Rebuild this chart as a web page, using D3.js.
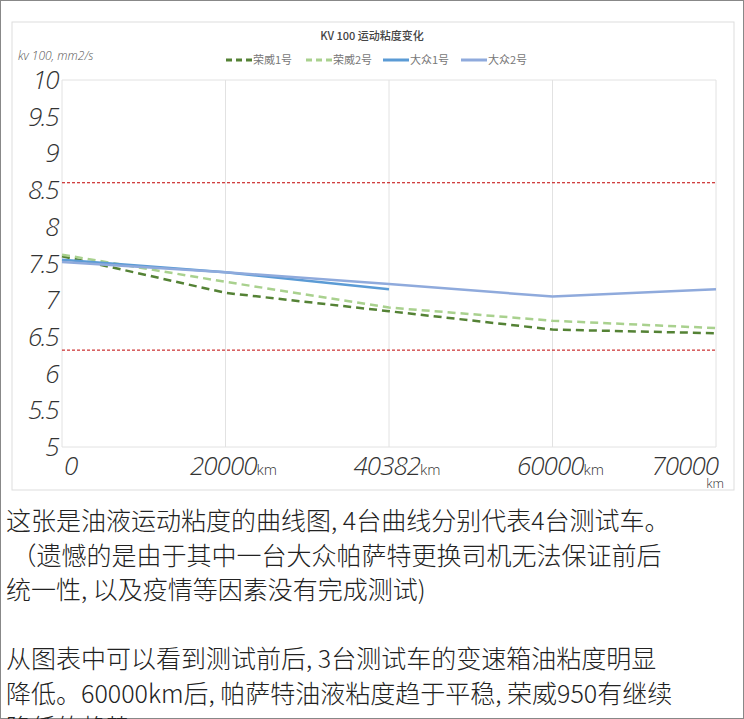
<!DOCTYPE html>
<html><head><meta charset="utf-8">
<script src="https://cdn.jsdelivr.net/npm/d3@7"></script>
<style>
body{margin:0;background:#fff;font-family:"Noto Sans CJK SC","Noto Sans",sans-serif;}
svg{display:block}
</style></head><body>
<svg id="c" width="744" height="719"></svg>
<script>
const categories = ["0", "20000", "40382", "60000", "70000"];
const yTicks = [5, 5.5, 6, 6.5, 7, 7.5, 8, 8.5, 9, 9.5, 10];
const roewe1 = [7.6, 7.1, 6.85, 6.6, 6.55];
const roewe2 = [7.62, 7.25, 6.9, 6.72, 6.62];
const vw1 = [7.55, 7.38, 7.15];
const vw2 = [7.52, 7.38, 7.22, 7.05, 7.15];
const limits = [8.6, 6.32];
const series = [
  {name: "荣威1号", values: roewe1, color: "#548235", dash: "8,5"},
  {name: "荣威2号", values: roewe2, color: "#a9d18e", dash: "8,5"},
  {name: "大众1号", values: vw1, color: "#5b9bd5", dash: null},
  {name: "大众2号", values: vw2, color: "#8faadc", dash: null}
];
const paragraphs = [
  "这张是油液运动粘度的曲线图, 4台曲线分别代表4台测试车。",
  " （遗憾的是由于其中一台大众帕萨特更换司机无法保证前后",
  "统一性, 以及疫情等因素没有完成测试)",
  "",
  "从图表中可以看到测试前后, 3台测试车的变速箱油粘度明显",
  "降低。60000km后, 帕萨特油液粘度趋于平稳, 荣威950有继续",
  "降低的趋势。"
];

const svg = d3.select("#c");
svg.append("rect").attr("x", 0.5).attr("y", 0.5).attr("width", 743).attr("height", 718)
  .attr("fill", "none").attr("stroke", "#888");
svg.append("rect").attr("x", 12).attr("y", 22).attr("width", 722).attr("height", 468)
  .attr("fill", "#fff").attr("stroke", "#ddd");

const x = d3.scalePoint().domain(categories).range([62, 716]);
const y = d3.scaleLinear().domain([5, 10]).range([447, 80]);

// gridlines + frame
svg.append("g").selectAll("line").data(categories).join("line")
  .attr("x1", d => x(d)).attr("x2", d => x(d)).attr("y1", 80).attr("y2", 447)
  .attr("stroke", "#e2e2e2");
svg.append("line").attr("x1", 62).attr("x2", 716).attr("y1", 80).attr("y2", 80).attr("stroke", "#e2e2e2");
svg.append("line").attr("x1", 62).attr("x2", 716).attr("y1", 447).attr("y2", 447).attr("stroke", "#e2e2e2");

svg.append("text").attr("x", 372).attr("y", 40).attr("text-anchor", "middle")
  .attr("font-size", 11).attr("font-weight", 500).attr("fill", "#444").text("KV 100 运动粘度变化");
svg.append("text").attr("x", 18).attr("y", 60).attr("font-size", 12).attr("font-style", "italic")
  .attr("fill", "#555").attr("font-family", "Open Sans").attr("font-weight", 300).text("kv 100, mm2/s");

// y tick labels
svg.append("g").selectAll("text").data(yTicks).join("text")
  .attr("x", 58).attr("y", d => y(d) + 9).attr("text-anchor", "end")
  .attr("font-size", 26).attr("font-style", "italic").attr("font-family", "Open Sans")
  .attr("font-weight", 300).attr("letter-spacing", -1.5).attr("fill", "#333").text(d => d);

// x tick labels
const xl = svg.append("g").attr("font-family", "Open Sans").attr("font-style", "italic")
  .attr("font-weight", 300).attr("fill", "#333");
categories.forEach((c, i) => {
  const t = xl.append("text").attr("y", 475).attr("font-size", 26).attr("letter-spacing", -1)
    .attr("x", i === 0 ? x(c) + 2 : i === 4 ? x(c) + 2 : x(c) + 8)
    .attr("text-anchor", i === 0 ? "start" : i === 4 ? "end" : "middle");
  t.append("tspan").text(c);
  if (i > 0 && i < 4) t.append("tspan").attr("font-size", 15).attr("font-style", "normal").attr("letter-spacing", 0).text("km");
});
xl.append("text").attr("x", 724).attr("y", 488).attr("text-anchor", "end").attr("font-size", 13)
  .attr("font-style", "normal").text("km");

// red limit lines
svg.append("g").selectAll("line").data(limits).join("line")
  .attr("x1", 62).attr("x2", 716).attr("y1", d => y(d)).attr("y2", d => y(d))
  .attr("stroke", "#c00000").attr("stroke-dasharray", "3,2").attr("stroke-width", 1);

const line = d3.line().x((d, i) => x(categories[i])).y(d => y(d));
series.forEach(s => {
  svg.append("path").attr("d", line(s.values)).attr("fill", "none")
    .attr("stroke", s.color).attr("stroke-width", 2.5)
    .attr("stroke-dasharray", s.dash);
});

// legend
const lg = svg.append("g").attr("font-size", 11).attr("fill", "#777");
const lx = [226, 306, 383, 461];
series.forEach((s, i) => {
  lg.append("line").attr("x1", lx[i]).attr("x2", lx[i] + 26).attr("y1", 60).attr("y2", 60)
    .attr("stroke", s.color).attr("stroke-width", 3).attr("stroke-dasharray", s.dash ? "6,4" : null);
  lg.append("text").attr("x", lx[i] + 27).attr("y", 64).text(s.name);
});

// paragraph text
svg.append("g").selectAll("text").data(paragraphs).join("text")
  .attr("x", 6).attr("y", (d, i) => 530 + i * 34.5)
  .attr("font-size", 25).attr("fill", "#222").attr("font-weight", 300)
  .attr("xml:space", "preserve").text(d => d);
</script>
</body></html>
